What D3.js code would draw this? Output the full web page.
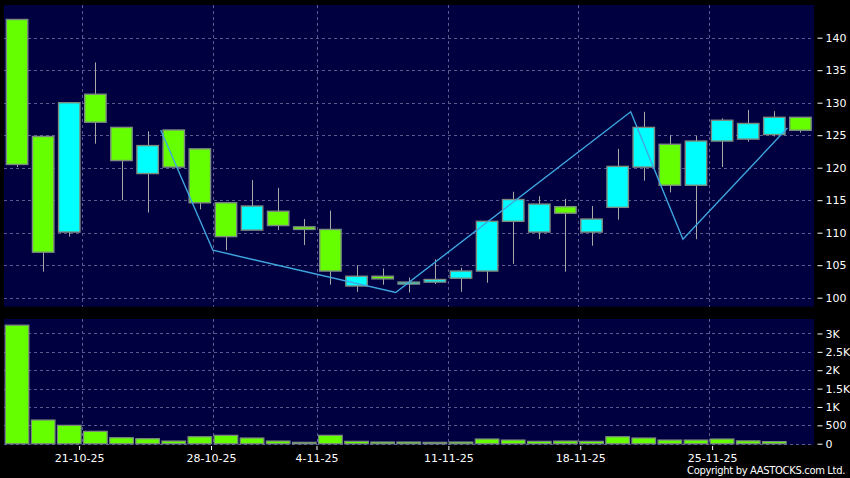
<!DOCTYPE html>
<html>
<head>
<meta charset="utf-8">
<script src="https://cdn.jsdelivr.net/npm/d3@7"></script>
<style>
html,body{margin:0;padding:0;background:#000;}
svg{display:block;}
</style>
</head>
<body>
<script>
// ---- data ----
const dates = ["16-10-25","17-10-25","20-10-25","21-10-25","22-10-25","23-10-25","24-10-25","27-10-25","28-10-25","30-10-25","31-10-25",
  "3-11-25","4-11-25","5-11-25","6-11-25","7-11-25","10-11-25","11-11-25","12-11-25","13-11-25","14-11-25",
  "17-11-25","18-11-25","19-11-25","20-11-25","21-11-25","24-11-25","25-11-25","26-11-25","27-11-25","28-11-25"];
const open  = [142.8,124.8,110.1,131.3,126.2,119.1,125.8,122.9,114.6,110.4,113.3,110.9,110.5,101.8,103.3,102.1,102.4,103.0,104.1,111.75,110.1,114.0,110.1,113.9,120.1,123.6,117.3,124.1,124.4,125.1,127.75];
const high  = [142.8,124.8,130.0,136.2,126.2,125.6,125.8,122.9,114.7,118.1,116.9,112.1,113.4,105.0,104.5,103.1,105.9,104.6,111.75,116.3,115.6,115.2,114.1,122.9,128.6,125.0,124.9,127.6,128.9,128.7,127.75];
const low   = [120.1,104.0,109.4,123.7,115.0,113.1,120.1,113.6,107.3,110.4,110.4,108.1,102.0,100.9,102.0,100.8,102.1,100.9,102.3,105.2,109.0,104.0,108.0,112.0,118.0,116.2,109.0,120.1,124.0,124.8,125.4];
const close = [120.5,107.0,130.0,127.0,121.1,123.4,120.1,114.6,109.4,114.1,111.1,110.5,104.1,103.3,102.9,102.4,102.8,104.1,111.75,115.1,114.4,113.0,112.1,120.2,126.2,117.3,124.1,127.3,126.8,127.75,125.75];
const volume = [3226,644,500,337,163,136,73,190,228,155,73,38,228,65,46,46,38,46,128,100,65,73,65,190,155,100,100,128,78,58,0];
const zigzagIdx = [6,8,15,24,26,30];
const zigzagVal = [125.8,107.3,100.8,128.6,109.0,126.1];
const priceTicks = [100,105,110,115,120,125,130,135,140];
const volTicks = [0,500,1000,1500,2000,2500,3000];
const volTickLabels = ["0","500","1K","1.5K","2K","2.5K","3K"];
const dateTicks = ["21-10-25","28-10-25","4-11-25","11-11-25","18-11-25","25-11-25"];

// ---- layout ----
const W = 850, H = 478;
const PL = 4, PR = 814;
const pTop = 5, pBot = 306.7, vTop = 319, vBot = 445;
const C_BG = "#000040", C_GRID = "#5a5a8c", C_UP = "#00ffff", C_DN = "#66ff00";
const C_EDGE = "#7d8c80", C_WICK = "#a8a8a8", C_ZZ = "#3ea6e0";
const FONT = "'DejaVu Sans', Verdana, sans-serif";

const svg = d3.select("body").append("svg").attr("width", W).attr("height", H);
svg.append("rect").attr("width", W).attr("height", H).attr("fill", "#000");

const x = d3.scaleBand().domain(dates).range([PL, 813.5]).paddingInner(0).paddingOuter(0);
const step = x.step();
const xc = d => x(d) + step / 2;
const xAxisScale = d3.scalePoint().domain(dates).range([0, 26.375 * (dates.length - 1)]);
const yP = d3.scaleLinear().domain([98.615, 145.03]).range([pBot, pTop]);
const yV = d3.scaleLinear().domain([-35, 3394]).range([vBot, vTop]);

// panels
svg.append("rect").attr("x", PL).attr("y", pTop).attr("width", PR - PL).attr("height", pBot - pTop).attr("fill", C_BG);
svg.append("rect").attr("x", PL).attr("y", vTop).attr("width", PR - PL).attr("height", vBot - vTop).attr("fill", C_BG);

// grids
const grid = svg.append("g").attr("stroke", C_GRID).attr("stroke-width", 1).attr("stroke-dasharray", "3,3");
grid.selectAll(".hp").data(priceTicks).join("line")
  .attr("x1", PL).attr("x2", PR).attr("y1", d => Math.round(yP(d)) + 0.5).attr("y2", d => Math.round(yP(d)) + 0.5);
grid.selectAll(".hv").data(volTicks).join("line")
  .attr("x1", PL).attr("x2", PR).attr("y1", d => Math.round(yV(d)) + 0.5).attr("y2", d => Math.round(yV(d)) + 0.5);
dateTicks.forEach(d => {
  const gx = Math.round(x(d)) + 0.5;
  grid.append("line").attr("x1", gx).attr("x2", gx).attr("y1", pTop).attr("y2", pBot);
  grid.append("line").attr("x1", gx).attr("x2", gx).attr("y1", vTop).attr("y2", vBot);
});

// candles
const idx = d3.range(dates.length);
const cw = 21.4;
svg.append("g").selectAll("line").data(idx).join("line")
  .attr("x1", i => Math.round(xc(dates[i])) + 0.5).attr("x2", i => Math.round(xc(dates[i])) + 0.5)
  .attr("y1", i => yP(high[i])).attr("y2", i => yP(low[i]))
  .attr("stroke", C_WICK).attr("stroke-width", 1);
svg.append("g").selectAll("rect").data(idx).join("rect")
  .attr("x", i => xc(dates[i]) - cw / 2).attr("width", cw)
  .attr("y", i => yP(Math.max(open[i], close[i])))
  .attr("height", i => Math.max(1, Math.abs(yP(open[i]) - yP(close[i]))))
  .attr("fill", i => close[i] > open[i] ? C_UP : C_DN)
  .attr("stroke", C_EDGE).attr("stroke-width", 1.4);

// zigzag
const zz = d3.line().x(p => x(dates[p[0]])).y(p => yP(p[1]));
svg.append("path").datum(zigzagIdx.map((k, j) => [k, zigzagVal[j]]))
  .attr("d", zz).attr("fill", "none").attr("stroke", C_ZZ).attr("stroke-width", 1.4);

// volume bars
const vw = 23.6;
svg.append("g").selectAll("rect").data(idx.filter(i => volume[i] > 0)).join("rect")
  .attr("x", i => xc(dates[i]) - vw / 2).attr("width", vw)
  .attr("y", i => yV(volume[i])).attr("height", i => yV(0) - yV(volume[i]))
  .attr("fill", C_DN).attr("stroke", C_EDGE).attr("stroke-width", 1.2);

// axes
function styleAxis(g) {
  g.select(".domain").remove();
  g.selectAll(".tick line").attr("stroke", "#fff");
  g.selectAll(".tick text").attr("fill", "#fff").style("font-family", FONT).style("font-size", "11px");
}
svg.append("g").attr("transform", `translate(817.5,0)`)
  .call(d3.axisRight(yP).tickValues(priceTicks).tickSize(5).tickPadding(3).tickFormat(d3.format("d")))
  .call(styleAxis);
svg.append("g").attr("transform", `translate(817.5,0)`)
  .call(d3.axisRight(yV).tickValues(volTicks).tickSize(5).tickPadding(3).tickFormat((d, i) => volTickLabels[i]))
  .call(styleAxis);
svg.append("g").attr("transform", `translate(0,${vBot + 1})`)
  .call(d3.axisBottom(xAxisScale).tickValues(dateTicks).tickSize(4).tickPadding(4))
  .call(styleAxis);

// copyright
svg.append("text").attr("x", 845).attr("y", 474).attr("text-anchor", "end")
  .attr("fill", "#fff").style("font-family", FONT).style("font-size", "10px")
  .style("letter-spacing", "-0.35px")
  .text("Copyright by AASTOCKS.com Ltd.");
</script>
</body>
</html>
